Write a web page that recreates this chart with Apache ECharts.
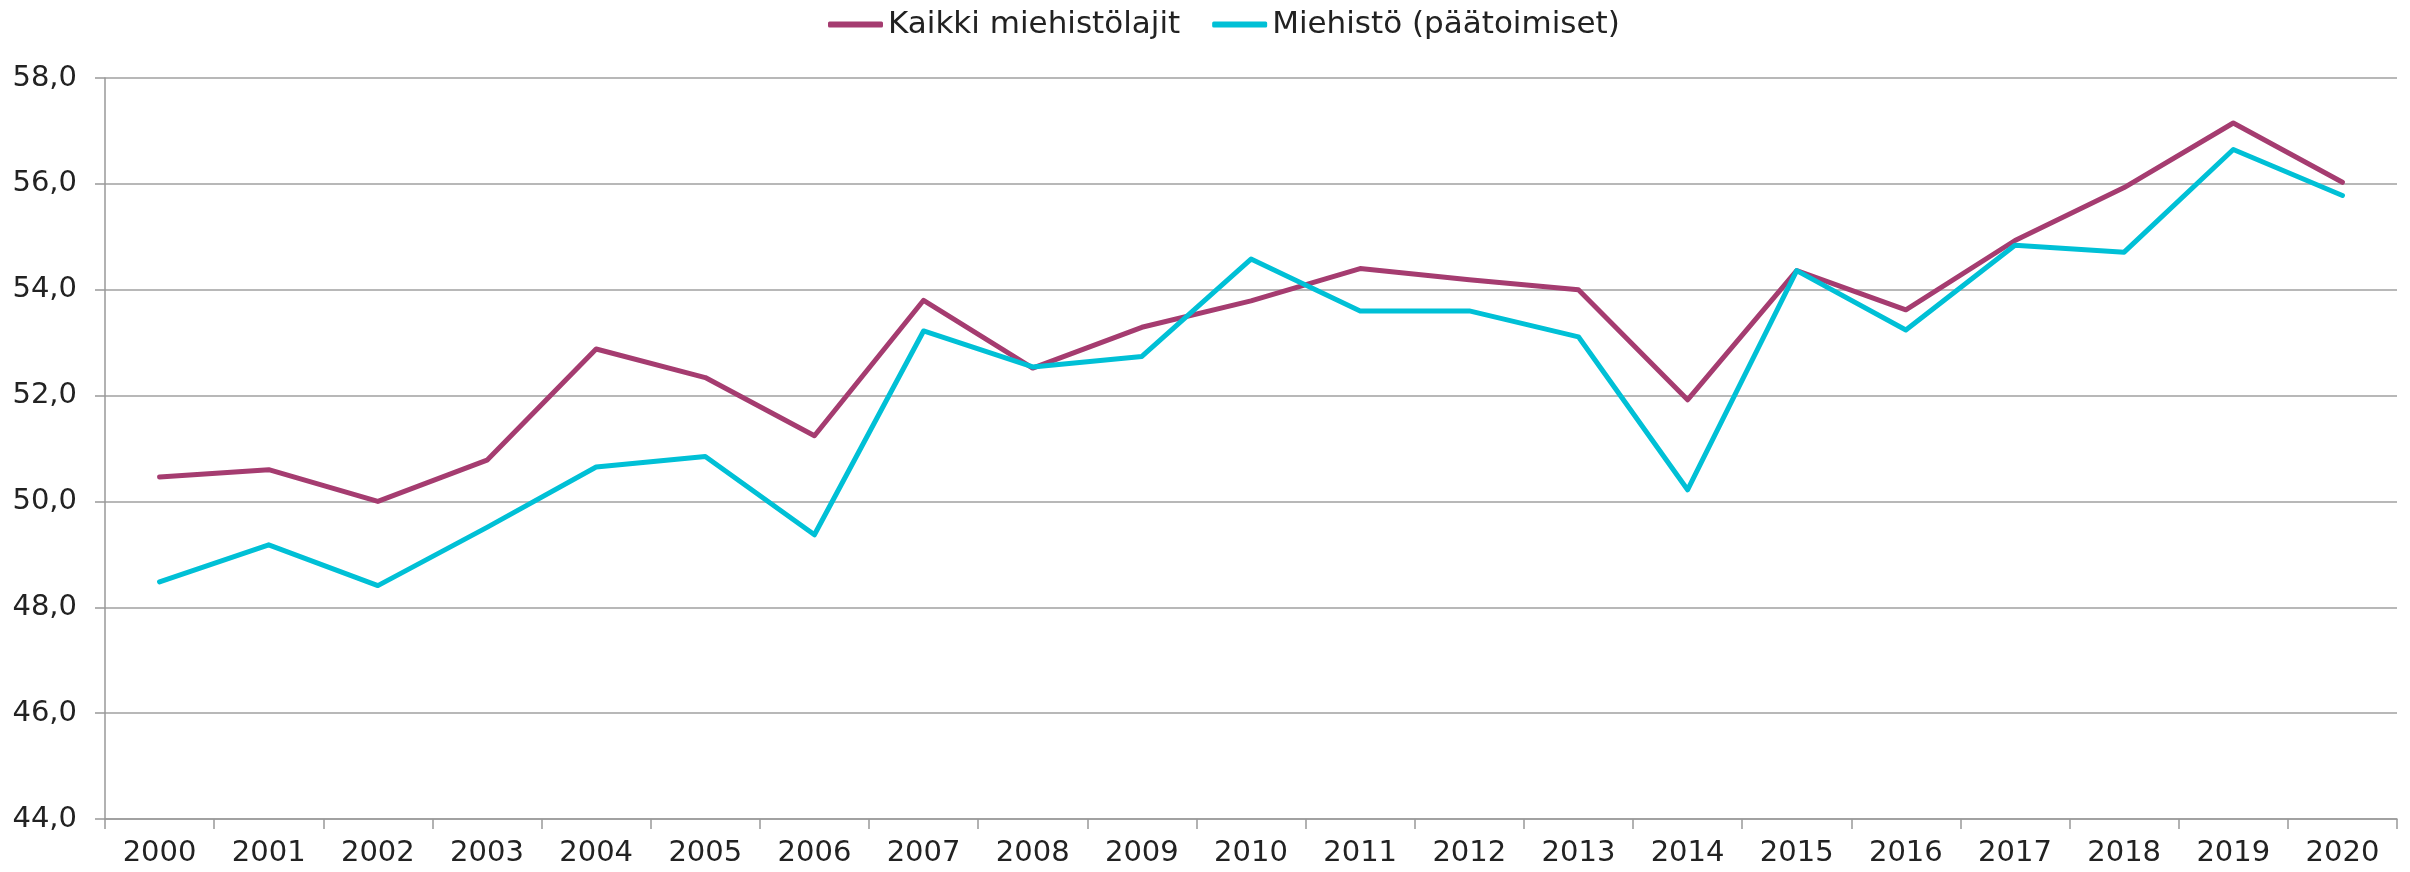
<!DOCTYPE html>
<html>
<head>
<meta charset="utf-8">
<script src="https://cdn.jsdelivr.net/npm/echarts@6/dist/echarts.min.js"></script>
<style>
  html, body { margin: 0; padding: 0; background: #fff; }
  #chart { width: 2410px; height: 872px; }
</style>
</head>
<body>
<div id="chart"></div>
<script>
// vuodet
var years = ['2000', '2001', '2002', '2003', '2004', '2005', '2006', '2007', '2008', '2009', '2010',
  '2011', '2012', '2013', '2014', '2015', '2016', '2017', '2018', '2019', '2020'];
// Kaikki miehistölajit
var kaikki = [50.46, 50.6, 50.0, 50.78, 52.88, 52.34, 51.24, 53.8, 52.52, 53.29, 53.79,
  54.4, 54.19, 54.0, 51.92, 54.36, 53.62, 54.93, 55.93, 57.15, 56.03];
// Miehistö (päätoimiset)
var paatoimiset = [48.48, 49.18, 48.41, 49.51, 50.65, 50.85, 49.37, 53.22, 52.54, 52.74, 54.58,
  53.6, 53.6, 53.11, 50.22, 54.36, 53.24, 54.84, 54.71, 56.65, 55.78];

var chart = echarts.init(document.getElementById('chart'));
var font = 'DejaVu Sans';
chart.setOption({
  animation: false,
  textStyle: { fontFamily: font },
  legend: {
    left: 823,
    top: 4,
    icon: 'roundRect',
    itemWidth: 55,
    itemHeight: 6,
    itemGap: 32,
    textStyle: { fontFamily: font, fontSize: 31, color: '#222' },
    data: ['Kaikki miehistölajit', 'Miehistö (päätoimiset)']
  },
  grid: { left: 105, right: 13, top: 78, bottom: 53 },
  xAxis: {
    type: 'category',
    data: years,
    boundaryGap: true,
    axisLine: { lineStyle: { color: '#999', width: 1.5 } },
    axisTick: { show: true, interval: 0, length: 10, lineStyle: { color: '#999', width: 1.5 } },
    axisLabel: { interval: 0, margin: 20, fontFamily: font, fontSize: 29, color: '#222' }
  },
  yAxis: {
    type: 'value',
    min: 44,
    max: 58,
    interval: 2,
    axisLine: { show: true, lineStyle: { color: '#999', width: 1.5 } },
    axisTick: { show: true, length: 10, lineStyle: { color: '#999', width: 1.5 } },
    splitLine: { lineStyle: { color: '#a0a0a0', width: 1.5 } },
    axisLabel: {
      margin: 28,
      fontFamily: font,
      fontSize: 29,
      color: '#222',
      formatter: function (v) { return v.toFixed(1).replace('.', ','); }
    }
  },
  series: [
    {
      name: 'Kaikki miehistölajit',
      type: 'line',
      data: kaikki,
      symbol: 'none',
      color: '#a53c70',
      lineStyle: { width: 5, color: '#a53c70', cap: 'round', join: 'round' }
    },
    {
      name: 'Miehistö (päätoimiset)',
      type: 'line',
      data: paatoimiset,
      symbol: 'none',
      color: '#00c0d6',
      lineStyle: { width: 5, color: '#00c0d6', cap: 'round', join: 'round' }
    }
  ]
});
</script>
</body>
</html>
